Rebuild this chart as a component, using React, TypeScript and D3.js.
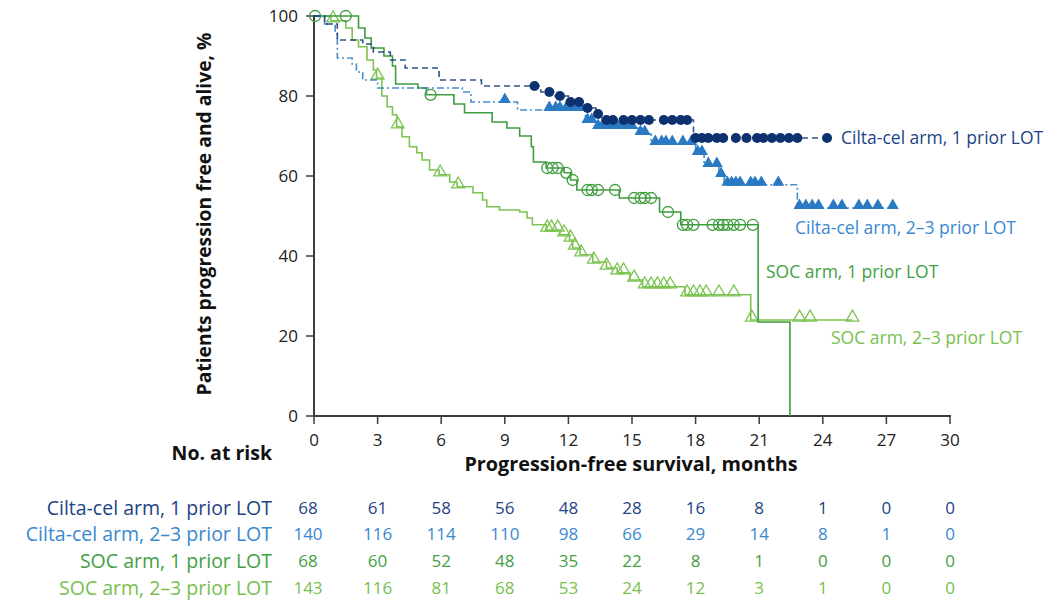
import React from "react";
import * as d3 from "d3";

// ---------- data ----------
const xTicks = [0, 3, 6, 9, 12, 15, 18, 21, 24, 27, 30];
const yTicks = [0, 20, 40, 60, 80, 100];

const seriesLabels = [
  "Cilta-cel arm, 1 prior LOT",
  "Cilta-cel arm, 2–3 prior LOT",
  "SOC arm, 1 prior LOT",
  "SOC arm, 2–3 prior LOT",
];

// Cilta-cel arm, 1 prior LOT  [time (months), PFS %]
const cilta1Steps: [number, number][] = [
  [0, 100], [0.5, 98], [1.1, 94], [2.3, 93], [2.8, 91], [3.6, 89], [4.3, 87],
  [5.9, 84], [7.9, 82.5], [10.7, 81], [11.3, 80], [12.0, 78.5], [12.8, 77],
  [13.3, 75.5], [13.6, 74], [17.9, 69.5],
];
const cilta1End = 24.2;
const cilta1Censor = [
  10.4, 11.1, 11.6, 12.1, 12.5, 12.9, 13.4, 13.8, 14.1, 14.6, 15.0, 15.4, 15.8,
  16.5, 16.9, 17.3, 17.6, 18.0, 18.3, 18.6, 19.0, 19.3, 19.9, 20.4, 20.9, 21.2,
  21.6, 22.0, 22.4, 22.8, 24.2,
];

// Cilta-cel arm, 2–3 prior LOT
const cilta2Steps: [number, number][] = [
  [0, 100], [0.5, 98], [1.0, 96], [1.1, 89.5], [1.8, 88], [2.0, 86], [2.3, 84],
  [3.0, 82], [7.0, 81], [7.4, 78.5], [9.6, 76.5], [12.8, 73.5], [13.3, 72],
  [15.3, 70.5], [15.9, 68], [18.0, 65.5], [18.4, 62.5], [19.1, 60],
  [19.35, 57.8], [22.8, 52],
];
const cilta2End = 27.3;
const cilta2Censor = [
  9.0, 11.1, 11.4, 11.6, 11.9, 12.1, 12.4, 12.6, 12.9, 13.1, 13.4, 13.6, 13.9,
  14.1, 14.3, 14.5, 14.8, 15.0, 15.4, 15.6, 16.1, 16.4, 16.6, 16.9, 17.4, 17.8,
  18.1, 18.3, 18.6, 19.0, 19.2, 19.5, 19.7, 19.9, 20.1, 20.6, 20.8, 21.1, 21.9,
  22.9, 23.2, 23.5, 23.8, 24.5, 24.9, 25.7, 26.1, 26.6, 27.3,
];

// SOC arm, 1 prior LOT
const soc1Steps: [number, number][] = [
  [0, 100], [2.1, 97], [2.4, 94.5], [2.7, 92], [3.3, 90], [3.7, 87.5],
  [3.85, 83], [4.9, 82], [5.3, 80.3], [6.6, 78], [7.1, 75.8], [8.4, 73.5],
  [9.1, 72], [9.7, 70], [10.25, 67.3], [10.35, 63.5], [10.95, 62], [11.8, 60.8],
  [12.1, 59], [12.4, 56.5], [14.4, 54.5], [16.3, 51], [17.3, 47.8],
  [20.95, 23.5], [22.45, 0],
];
const soc1End = 22.45;
const soc1Censor = [
  0.05, 1.5, 5.5, 11.0, 11.25, 11.5, 11.9, 12.2, 12.9, 13.1, 13.4, 14.2, 15.1,
  15.4, 15.6, 15.9, 16.7, 17.4, 17.6, 17.9, 18.8, 19.1, 19.3, 19.5, 19.8, 20.1,
  20.7,
];

// SOC arm, 2–3 prior LOT
const soc2Steps: [number, number][] = [
  [0, 100], [0.8, 98.8], [1.5, 97], [1.8, 94], [2.1, 92.3], [2.5, 89],
  [2.8, 86.5], [2.95, 84.5], [3.2, 80], [3.45, 77.3], [3.7, 75.3], [3.9, 72.3],
  [4.15, 69.8], [4.5, 67.3], [4.85, 65.8], [5.1, 64], [5.45, 61.5], [5.9, 60.3],
  [6.4, 58.5], [6.75, 57.3], [7.5, 55.8], [7.95, 54], [8.15, 52.3], [8.75, 51.5],
  [9.7, 51], [10.05, 49.5], [10.3, 47.8], [10.95, 46.5], [11.6, 45.3],
  [12.05, 44], [12.2, 42], [12.55, 40.3], [13.15, 38.5], [13.8, 37],
  [14.3, 35.8], [14.9, 34], [15.5, 32.3], [17.5, 30.3], [20.6, 24],
];
const soc2End = 25.4;
const soc2Censor = [
  0.9, 3.0, 3.95, 5.95, 6.8, 11.0, 11.2, 11.5, 11.8, 12.1, 12.3, 12.6, 13.2,
  13.8, 14.3, 14.6, 15.1, 15.6, 15.9, 16.2, 16.5, 16.8, 17.6, 17.9, 18.2, 18.5,
  19.1, 19.8, 20.65, 22.9, 23.4, 25.4,
];

// Numbers at risk
const riskCilta1 = [68, 61, 58, 56, 48, 28, 16, 8, 1, 0, 0];
const riskCilta2 = [140, 116, 114, 110, 98, 66, 29, 14, 8, 1, 0];
const riskSoc1 = [68, 60, 52, 48, 35, 22, 8, 1, 0, 0, 0];
const riskSoc2 = [143, 116, 81, 68, 53, 24, 12, 3, 1, 0, 0];

// ---------- styling ----------
const NAVY = "#0e3270";
const NAVY_TXT = "#1e4384";
const BLUE = "#2a79c3";
const BLUE_TXT = "#3a88cf";
const GREEN = "#3f9c3f";
const GREEN_TXT = "#44a044";
const LGREEN = "#7cc452";
const LGREEN_TXT = "#78c04e";
const AXIS = "#3c3c3c";
const FONT = "'Open Sans', 'Noto Sans', sans-serif";

const x = d3.scaleLinear().domain([0, 30]).range([314, 950]);
const y = d3.scaleLinear().domain([0, 100]).range([416, 16]);

function valueAt(steps: [number, number][], t: number) {
  let v = steps[0][1];
  for (const s of steps) if (s[0] <= t) v = s[1];
  return v;
}

const lineGen = d3
  .line<[number, number]>()
  .x((d) => x(d[0]))
  .y((d) => y(d[1]))
  .curve(d3.curveStepAfter);

function pathFor(steps: [number, number][], end: number) {
  const pts = [...steps, [end, steps[steps.length - 1][1]] as [number, number]];
  return lineGen(pts) || "";
}

const triFilled = d3.symbol().type(d3.symbolTriangle).size(62)() || "";
const triOpen = d3.symbol().type(d3.symbolTriangle).size(70)() || "";

export default function App() {
  const risks = [riskCilta1, riskCilta2, riskSoc1, riskSoc2];
  const riskColors = [NAVY_TXT, BLUE_TXT, GREEN_TXT, LGREEN_TXT];
  const riskY = [508, 534, 561, 588];
  return (
    <svg
      width={1061}
      height={602}
      style={{ position: "absolute", left: 0, top: 0, background: "#fff" }}
      fontFamily={FONT}
    >
      {/* axes */}
      <line x1={314} x2={314} y1={15} y2={417} stroke={AXIS} strokeWidth={2} />
      <line x1={313} x2={951} y1={416} y2={416} stroke={AXIS} strokeWidth={2} />
      {yTicks.map((t) => (
        <g key={"yt" + t}>
          <line x1={306} x2={314} y1={y(t)} y2={y(t)} stroke={AXIS} strokeWidth={1.5} />
          <text x={298} y={y(t)} dy="0.35em" textAnchor="end" fontSize={17} fill="#222">
            {t}
          </text>
        </g>
      ))}
      {xTicks.map((t) => (
        <g key={"xt" + t}>
          <line x1={x(t)} x2={x(t)} y1={416} y2={424} stroke={AXIS} strokeWidth={1.5} />
          <text x={x(t)} y={440} dy="0.35em" textAnchor="middle" fontSize={17} fill="#222">
            {t}
          </text>
        </g>
      ))}
      <text
        transform="translate(211,214) rotate(-90)"
        textAnchor="middle"
        fontSize={19.3}
        fontWeight="bold"
        fill="#111"
      >
        Patients progression free and alive, %
      </text>
      <text x={631} y={464} dy="0.35em" textAnchor="middle" fontSize={19.8} fontWeight="bold" fill="#111">
        Progression-free survival, months
      </text>

      {/* curves */}
      <path d={pathFor(soc2Steps, soc2End)} fill="none" stroke={LGREEN} strokeWidth={1.6} />
      {soc2Censor.map((t, i) => (
        <path
          key={"s2" + i}
          d={triOpen}
          transform={`translate(${x(t)},${y(valueAt(soc2Steps, t)) - 2.5})`}
          fill="none"
          stroke={LGREEN}
          strokeWidth={1.3}
        />
      ))}
      <path d={pathFor(soc1Steps, soc1End)} fill="none" stroke={GREEN} strokeWidth={1.6} />
      {soc1Censor.map((t, i) => (
        <circle
          key={"s1" + i}
          cx={x(t)}
          cy={y(valueAt(soc1Steps, t))}
          r={5.5}
          fill="none"
          stroke={GREEN}
          strokeWidth={1.3}
        />
      ))}
      <path
        d={pathFor(cilta2Steps, cilta2End)}
        fill="none"
        stroke={BLUE}
        strokeWidth={1.6}
        strokeDasharray="7,3,2,3"
        opacity={0.85}
      />
      {cilta2Censor.map((t, i) => (
        <path
          key={"c2" + i}
          d={triFilled}
          transform={`translate(${x(t)},${y(valueAt(cilta2Steps, t)) - 2.5})`}
          fill={BLUE}
        />
      ))}
      <path
        d={pathFor(cilta1Steps, cilta1End)}
        fill="none"
        stroke={NAVY}
        strokeWidth={1.6}
        strokeDasharray="6,4"
        opacity={0.85}
      />
      {cilta1Censor.map((t, i) => (
        <circle key={"c1" + i} cx={x(t)} cy={y(valueAt(cilta1Steps, t))} r={5} fill={NAVY} />
      ))}

      {/* curve labels */}
      <text x={841} y={138} dy="0.35em" fontSize={17.5} fill={NAVY_TXT}>
        {seriesLabels[0]}
      </text>
      <text x={795} y={228} dy="0.35em" fontSize={17.5} fill={BLUE_TXT}>
        {seriesLabels[1]}
      </text>
      <text x={766} y={272} dy="0.35em" fontSize={17.5} fill={GREEN_TXT}>
        {seriesLabels[2]}
      </text>
      <text x={831} y={338} dy="0.35em" fontSize={17.5} fill={LGREEN_TXT}>
        {seriesLabels[3]}
      </text>

      {/* risk table */}
      <text x={272} y={453} dy="0.35em" textAnchor="end" fontSize={19.5} fontWeight="bold" fill="#111">
        No. at risk
      </text>
      {risks.map((row, ri) => (
        <g key={"r" + ri} fill={riskColors[ri]}>
          <text x={272} y={riskY[ri]} dy="0.35em" textAnchor="end" fontSize={19.5}>
            {seriesLabels[ri]}
          </text>
          {row.map((v, ci) => (
            <text
              key={ci}
              x={x(xTicks[ci]) - (ci === 0 ? 6 : 0)}
              y={riskY[ri]}
              dy="0.35em"
              textAnchor="middle"
              fontSize={17}
            >
              {v}
            </text>
          ))}
        </g>
      ))}
    </svg>
  );
}
